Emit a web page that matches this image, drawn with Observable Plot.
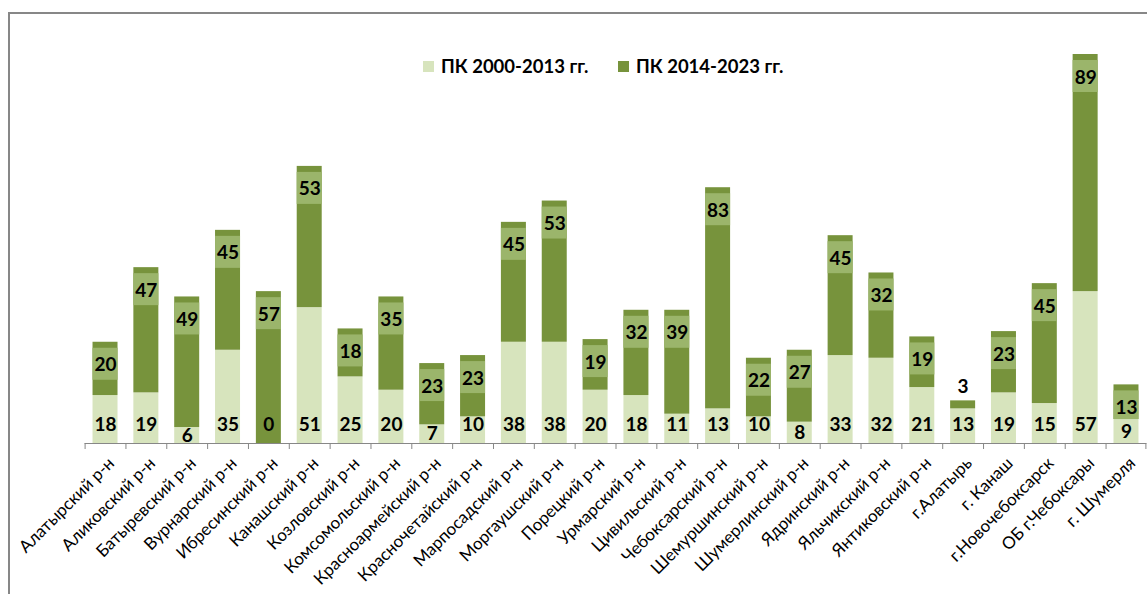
<!DOCTYPE html>
<html><head><meta charset="utf-8">
<script src="https://cdn.jsdelivr.net/npm/d3@7"></script>
<script src="https://cdn.jsdelivr.net/npm/@observablehq/plot@0.6"></script>
<style>
body{margin:0;background:#fff;overflow:hidden}
#wrap{position:relative;width:1147px;height:594px;overflow:hidden;font-family:Lato,"Open Sans",sans-serif}
#frame{position:absolute;left:8px;top:12px;width:1400px;height:800px;border-left:2px solid #878787;border-top:2px solid #878787;box-sizing:border-box}
#chart{position:absolute;left:0;top:0}
.lg{position:absolute;top:56px;height:20px;display:flex;align-items:center;font-weight:700;font-size:18.5px;color:#000;white-space:nowrap}
.lg i{display:inline-block;width:11px;height:11px;margin-right:7px}
</style></head>
<body>
<div id="wrap">
  <div id="frame"></div>
  <div id="chart"></div>
  <div class="lg" style="left:423px"><i style="background:#d7e4bd"></i>ПК 2000-2013 гг.</div>
  <div class="lg" style="left:618px"><i style="background:#77933c"></i>ПК 2014-2023 гг.</div>
</div>
<script>
const categories = ["Алатырский р-н","Аликовский р-н","Батыревский р-н","Вурнарский р-н","Ибресинский р-н","Канашский р-н","Козловский р-н","Комсомольский р-н","Красноармейский р-н","Красночетайский р-н","Марпосадский р-н","Моргаушский р-н","Порецкий р-н","Урмарский р-н","Цивильский р-н","Чебоксарский р-н","Шемуршинский р-н","Шумерлинский р-н","Ядринский р-н","Яльчикский р-н","Янтиковский р-н","г.Алатырь","г. Канаш","г.Новочебоксарск","ОБ г.Чебоксары","г. Шумерля"];
const pk2000 = [18,19,6,35,0,51,25,20,7,10,38,38,20,18,11,13,10,8,33,32,21,13,19,15,57,9];
const pk2014 = [20,47,49,45,57,53,18,35,23,23,45,53,19,32,39,83,22,27,45,32,19,3,23,45,89,13];
const seriesNames = ["ПК 2000-2013 гг.","ПК 2014-2023 гг."];

const rows = categories.map((c,i)=>({cat:c,a:pk2000[i],b:pk2014[i]}));
const W=1147,H=594,mT=54,mB=151,mL=84.6,mR=0.6;
const yMax=146;
const k=(H-mT-mB)/yMax; // px per unit
const step=(W-mL-mR)/categories.length;
const light="#d7e4bd", dark="#77933c", box="#9bb56b", grey="#878787";
const font='Lato, "Open Sans", sans-serif';

const chart = Plot.plot({
  width:W,height:H,marginTop:mT,marginBottom:mB,marginLeft:mL,marginRight:mR,
  style:{fontFamily:font,background:"transparent",overflow:"visible"},
  x:{domain:categories,paddingInner:0.388,paddingOuter:0.194,round:false,label:null},
  y:{domain:[0,yMax],axis:null},
  marks:[
    Plot.barY(rows,{x:"cat",y1:0,y2:"a",fill:light}),
    Plot.barY(rows,{x:"cat",y1:"a",y2:d=>d.a+d.b,fill:dark}),
    Plot.barY(rows.filter(d=>d.b>=5),{x:"cat",y1:d=>Math.max(d.a,d.a+d.b-38/k),y2:d=>d.a+d.b,insetTop:6,fill:box}),
    Plot.ruleY([0],{stroke:grey,strokeWidth:1}),
    Plot.ruleX(categories,{x:d=>d,y1:0,y2:-6/k,dx:-step/2,stroke:grey}),
    Plot.ruleX(categories.slice(-1),{x:d=>d,y1:0,y2:-6/k,dx:step/2-1,stroke:grey}),
    Plot.text(rows.filter(d=>d.a===0||d.a>=10),{x:"cat",y:0,dy:-19,text:"a",fontSize:19,fontWeight:700,fill:"#000"}),
    Plot.text(rows.filter(d=>d.a>0&&d.a<10),{x:"cat",y:d=>d.a/2,text:"a",fontSize:19,fontWeight:700,fill:"#000"}),
    Plot.text(rows.filter(d=>d.b>=5),{x:"cat",y:d=>d.a+d.b,dy:23,text:"b",fontSize:19,fontWeight:700,fill:"#000"}),
    Plot.text(rows.filter(d=>d.b<5),{x:"cat",y:d=>d.a+d.b,dy:-14,text:"b",fontSize:19,fontWeight:700,fill:"#000"}),
    Plot.axisX({tickSize:0,tickPadding:17,dx:6,tickRotate:-45,fontSize:17,fill:"#000",label:null})
  ]
});
document.getElementById("chart").appendChild(chart);
</script>
</body></html>
